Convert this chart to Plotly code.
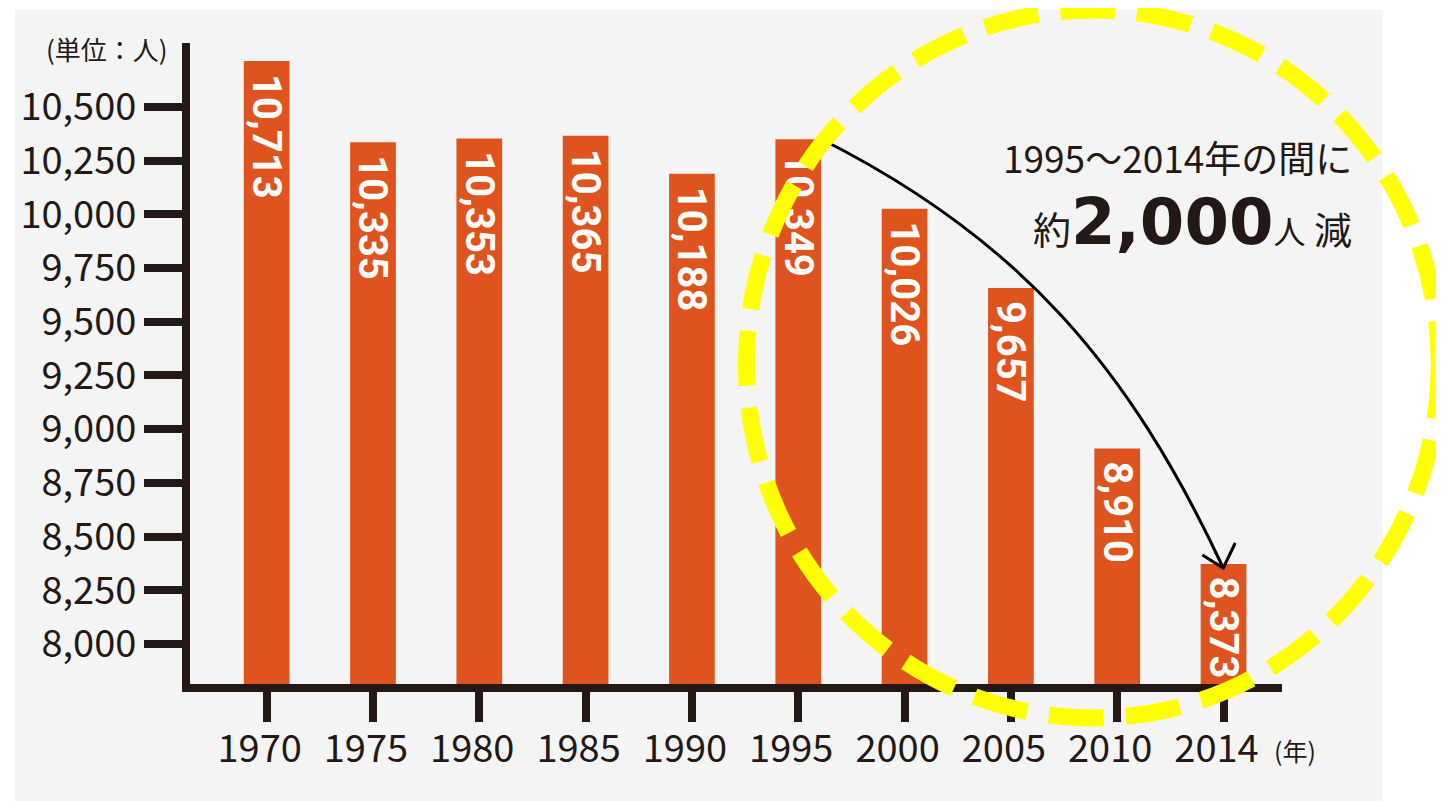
import plotly.graph_objects as go

years = ["1970", "1975", "1980", "1985", "1990", "1995", "2000", "2005", "2010", "2014"]
population = [10713, 10335, 10353, 10365, 10188, 10349, 10026, 9657, 8910, 8373]
y_tick_vals = [8000, 8250, 8500, 8750, 9000, 9250, 9500, 9750, 10000, 10250, 10500]
y_tick_text = [f"{v:,}" for v in y_tick_vals]
bar_labels = ["\u00a0" + f"{v:,}" for v in population]

W_PX, H_PX = 1443, 803
OFF = 8  # page body margin
L, R, T, B = 177, 169, 35, 127
PW = W_PX - L - R
PH = H_PX - T - B

def px(x):
    return (x - OFF - L) / PW

def py(y):
    return 1 - (y - OFF - T) / PH

INK = "#231815"
BAR = "#df541e"
FONT = "Noto Sans CJK JP"

fig = go.Figure()
fig.add_trace(go.Bar(
    x=years, y=population, width=0.43,
    marker=dict(color=BAR, line=dict(width=0)),
    text=bar_labels, textposition="inside", insidetextanchor="end",
    textangle=90, constraintext="none",
    insidetextfont=dict(family="Roboto", size=40, color="white", weight="bold"),
    hoverinfo="skip",
))

shapes = []
shapes.append(dict(type="rect", xref="paper", yref="paper", layer="below",
                   x0=px(9), x1=px(1383), y0=py(801), y1=py(10),
                   fillcolor="#f4f4f4", line=dict(width=0)))
p0 = (819, 139); p1 = (1019, 239); p2 = (1129, 368); p3 = (1223, 568)
path = "M {} {} C {} {} {} {} {} {}".format(px(p0[0]), py(p0[1]), px(p1[0]), py(p1[1]),
                                           px(p2[0]), py(p2[1]), px(p3[0]), py(p3[1]))
shapes.append(dict(type="path", xref="paper", yref="paper", path=path,
                   line=dict(color="black", width=3)))
head = "M {} {} L {} {} L {} {}".format(px(1202), py(555), px(1223), py(568), px(1235), py(543))
shapes.append(dict(type="path", xref="paper", yref="paper", path=head,
                   line=dict(color="black", width=3)))
shapes.append(dict(type="circle", xref="paper", yref="paper",
                   x0=px(744), x1=px(1440), y0=py(718), y1=py(10),
                   line=dict(color="#ffff00", width=17, dash="55px,22px")))

annotations = [
    dict(xref="paper", yref="paper", x=px(38), y=py(48), xanchor="left", yanchor="middle",
         text="(単位：人)", showarrow=False, font=dict(family=FONT, size=26, color=INK)),
    dict(xref="paper", yref="paper", x=px(1272), y=py(750), xanchor="left", yanchor="middle",
         text="(年)", showarrow=False, font=dict(family=FONT, size=25, color=INK)),
    dict(xref="paper", yref="paper", x=px(1354), y=py(157), xanchor="right", yanchor="middle",
         text="1995～2014年の間に", showarrow=False, font=dict(family=FONT, size=37, color=INK)),
    dict(xref="paper", yref="paper", x=px(1354), y=py(222), xanchor="right", yanchor="middle",
         text="約<span style='font-family:DejaVu Sans;font-weight:bold;font-size:64px'>2,000</span>"
              "<span style='font-size:32px'>人</span> 減",
         showarrow=False, font=dict(family=FONT, size=38, color=INK)),
]

fig.update_layout(
    width=W_PX, height=H_PX,
    margin=dict(l=L, r=R, t=T, b=B, pad=0),
    paper_bgcolor="white", plot_bgcolor="rgba(0,0,0,0)",
    showlegend=False,
    shapes=shapes, annotations=annotations,
    xaxis=dict(type="category", range=[-0.721, 9.55], showgrid=False, zeroline=False,
               showline=True, linecolor=INK, linewidth=8,
               ticks="outside", ticklen=30, tickwidth=8, tickcolor=INK,
               ticklabelstandoff=-6, ticklabelshift=-7,
               tickfont=dict(family=FONT, size=38, color=INK)),
    yaxis=dict(range=[7814, 10797], showgrid=False, zeroline=False,
               showline=True, linecolor=INK, linewidth=8,
               tickvals=y_tick_vals, ticktext=y_tick_text,
               ticks="outside", ticklen=38, tickwidth=8, tickcolor=INK,
               tickfont=dict(family=FONT, size=38, color=INK)),
)

fig.write_html("out.html")
